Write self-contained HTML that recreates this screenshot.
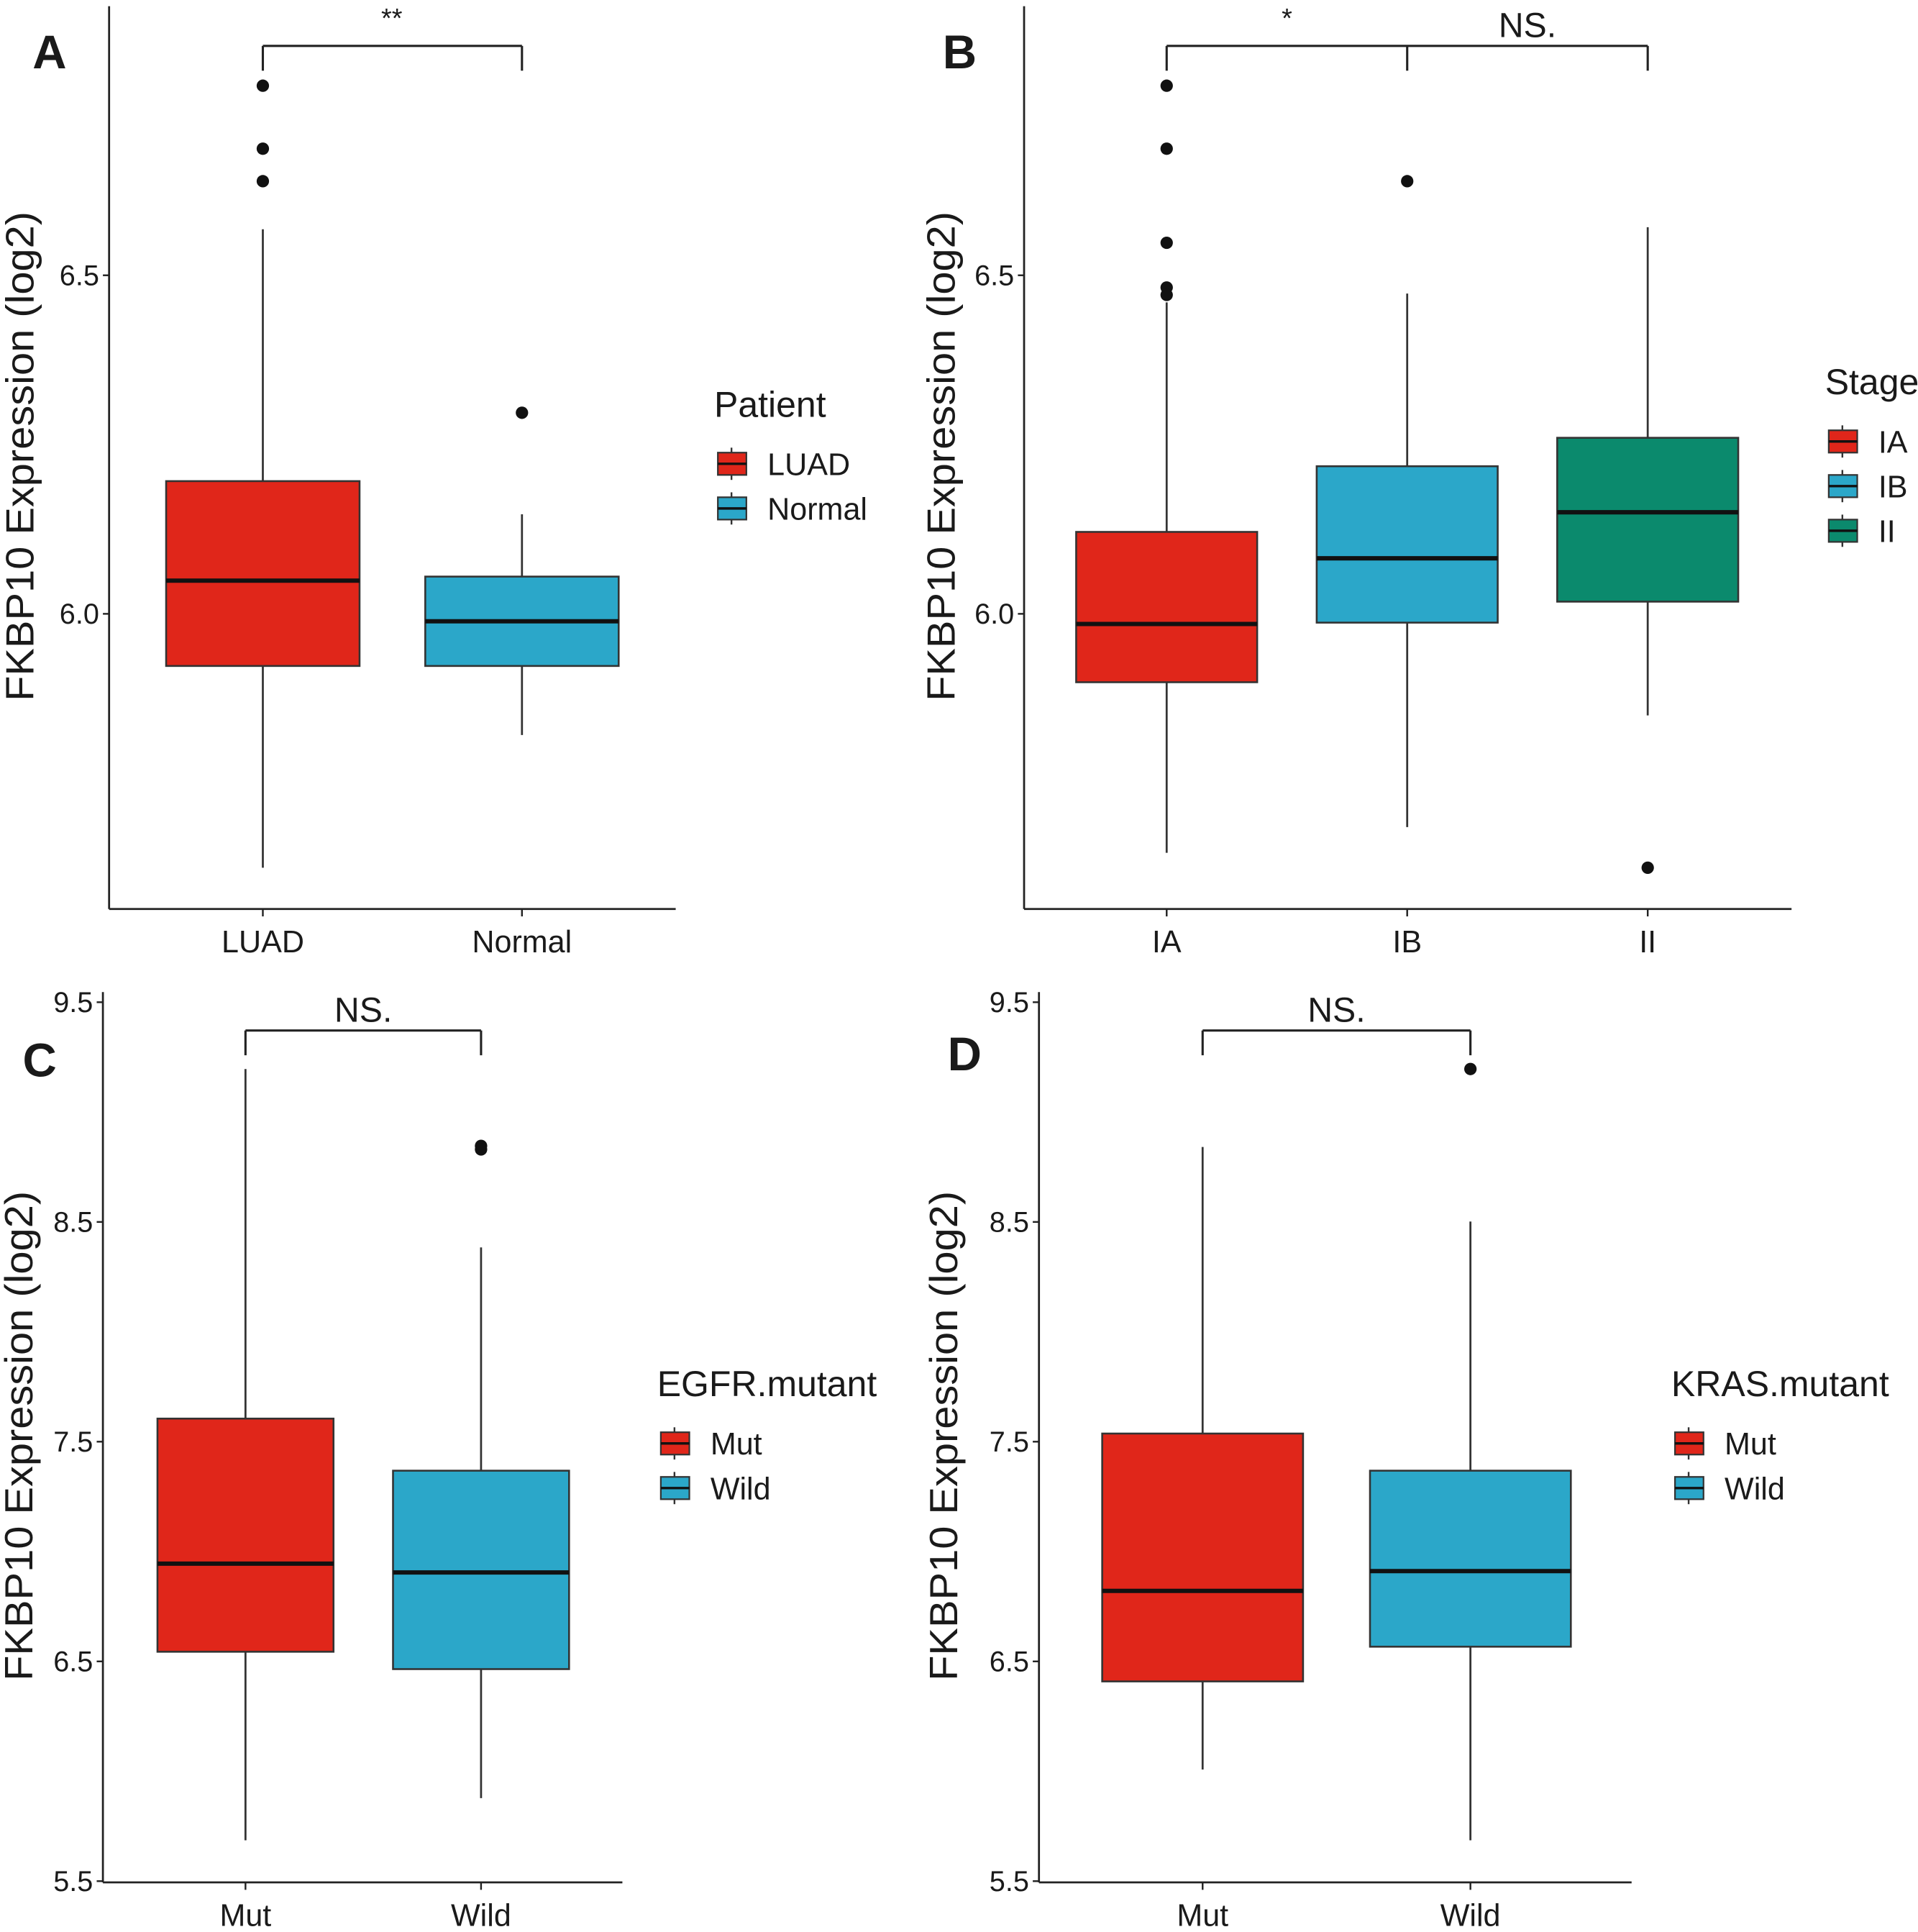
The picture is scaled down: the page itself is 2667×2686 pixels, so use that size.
<!DOCTYPE html>
<html><head><meta charset="utf-8"><style>
html,body{margin:0;padding:0;background:#fff}
svg{display:block}
text{font-family:"Liberation Sans",sans-serif;fill:#1a1a1a}
</style></head><body>
<svg id="fig" width="2667" height="2686" viewBox="0 0 1547 1558" xmlns="http://www.w3.org/2000/svg"></svg>
<script>
// Panel A data
const catsA = ["LUAD","Normal"];
const q1A = [5.923,5.923], medA = [6.049,5.989], q3A = [6.196,6.055];
const wloA = [5.625,5.821], whiA = [6.568,6.147];
const outA = [[6.780,6.687,6.639],[6.297]];
const ticksA = [6.0,6.5];
// Panel B data
const catsB = ["IA","IB","II"];
const q1B = [5.899,5.987,6.018], medB = [5.985,6.082,6.150], q3B = [6.121,6.218,6.260];
const wloB = [5.647,5.685,5.850], whiB = [6.460,6.473,6.571];
const outB = [[6.780,6.687,6.548,6.482,6.471],[6.639],[5.625]];
const ticksB = [6.0,6.5];
// Panel C data
const catsC = ["Mut","Wild"];
const q1C = [6.544,6.465], medC = [6.945,6.905], q3C = [7.605,7.368];
const wloC = [5.686,5.878], whiC = [9.196,8.384];
const outC = [[],[8.846,8.830]];
const ticksC = [5.5,6.5,7.5,8.5,9.5];
// Panel D data
const catsD = ["Mut","Wild"];
const q1D = [6.409,6.567], medD = [6.821,6.911], q3D = [7.537,7.368];
const wloD = [6.008,5.686], whiD = [8.841,8.502];
const outD = [[],[9.196]];
const ticksD = [5.5,6.5,7.5,8.5,9.5];

const NS="http://www.w3.org/2000/svg";
const svg=document.getElementById('fig');
function mk(tag,attrs,parent,txt){const e=document.createElementNS(NS,tag);for(const k in attrs)e.setAttribute(k,attrs[k]);if(txt!==undefined)e.textContent=txt;(parent||svg).appendChild(e);return e;}

function panel(cfg){
  const g=mk('g',{});
  
  
  const y=v=>cfg.y0+(cfg.v0-v)*cfg.ppu;
  const xs=cfg.cats.map((c,i)=>cfg.xc[i]);
  const ya=mk('line',{x1:cfg.ax,y1:cfg.top,x2:cfg.ax,y2:cfg.bot,stroke:'#222','stroke-width':1.6},g);
  
  const xa=mk('line',{x1:cfg.ax,y1:cfg.bot,x2:cfg.xr,y2:cfg.bot,stroke:'#222','stroke-width':1.6},g);
  
  cfg.ticks.forEach(t=>{
    const ty=y(t);
    mk('line',{x1:cfg.ax-5,y1:ty,x2:cfg.ax,y2:ty,stroke:'#222','stroke-width':1.4},g);
    const tl=mk('text',{x:cfg.ax-8,y:ty+8,'text-anchor':'end','font-size':23,fill:'#333'},g,t.toFixed(1));
    
  });
  const yt=mk('text',{transform:`translate(${cfg.ytx},${cfg.yty}) rotate(-90)`,'text-anchor':'middle','font-size':32,'textLength':395,'lengthAdjust':'spacingAndGlyphs','xml:space':'preserve'},g,'FKBP10  Expression (log2)');
  
  const pl=mk('text',{x:cfg.lx,y:cfg.ly,'font-size':38,'font-weight':'bold','text-anchor':'middle'},g,cfg.id.toUpperCase());
  
  cfg.cats.forEach((c,i)=>{
    const x=xs[i],hw=cfg.bw/2;
    mk('line',{x1:x,y1:cfg.bot,x2:x,y2:cfg.bot+6,stroke:'#222','stroke-width':1.4},g);
    const xl=mk('text',{x:x,y:cfg.bot+35,'text-anchor':'middle','font-size':25,fill:'#333'},g,c);
    
    const w=mk('line',{x1:x,y1:y(cfg.whi[i]),x2:x,y2:y(cfg.wlo[i]),stroke:'#333','stroke-width':1.6},g);
    
    const b=mk('rect',{x:x-hw,y:y(cfg.q3[i]),width:cfg.bw,height:y(cfg.q1[i])-y(cfg.q3[i]),fill:cfg.cols[i],stroke:'#333','stroke-width':1.5},g);
    
    const m=mk('line',{x1:x-hw,y1:y(cfg.med[i]),x2:x+hw,y2:y(cfg.med[i]),stroke:'#111','stroke-width':3.5},g);
    
    cfg.out[i].forEach(o=>{
      const p=mk('circle',{cx:x,cy:y(o),r:5,fill:'#111'},g);
      
    });
  });
  const bx=cfg.bracket.map(i=>xs[i]);
  const by=cfg.by;
  const br=mk('g',{},g);
  mk('line',{x1:bx[0],y1:by,x2:bx[bx.length-1],y2:by,stroke:'#222','stroke-width':1.8},br);
  bx.forEach(xx=>mk('line',{x1:xx,y1:by,x2:xx,y2:by+20,stroke:'#222','stroke-width':1.8},br));
  cfg.sig.forEach(s=>{
    const st=mk('text',{x:s[0],y:s[1],'text-anchor':'middle','font-size':s[2]},br,s[3]);
    
  });
  const lg=mk('g',{},g);
  const lt=mk('text',{x:cfg.legx,y:cfg.legy,'font-size':29},lg,cfg.legTitle);
  
  cfg.cats.forEach((c,i)=>{
    const ky=cfg.legy+28+i*36;
    const e=mk('g',{},lg);
    mk('line',{x1:cfg.legx+14,y1:ky-3,x2:cfg.legx+14,y2:ky+23,stroke:'#333','stroke-width':1.4},e);
    mk('rect',{x:cfg.legx+3,y:ky+1,width:23,height:18,fill:cfg.cols[i],stroke:'#333','stroke-width':1.3},e);
    mk('line',{x1:cfg.legx+3,y1:ky+10,x2:cfg.legx+26,y2:ky+10,stroke:'#111','stroke-width':2},e);
    mk('text',{x:cfg.legx+43,y:ky+19,'font-size':25,fill:'#333'},e,c);
  });
}
const RED='#e0261a',BLUE='#2ba7c9',TEAL='#0b8a6d';
panel({id:'a',cats:catsA,q1:q1A,med:medA,q3:q3A,wlo:wloA,whi:whiA,out:outA,ticks:ticksA,
  y0:495,v0:6.0,ppu:546,ax:88,top:5,bot:733,xr:545,xc:[212,421],bw:156,cols:[RED,BLUE],
  ytx:27,yty:368,lx:40,ly:55,bracket:[0,1],by:37,sig:[[316,22,22,'**']],legTitle:'Patient',legx:576,legy:336});
panel({id:'b',cats:catsB,q1:q1B,med:medB,q3:q3B,wlo:wloB,whi:whiB,out:outB,ticks:ticksB,
  y0:495,v0:6.0,ppu:546,ax:826,top:5,bot:733,xr:1445,xc:[941,1135,1329],bw:146,cols:[RED,BLUE,TEAL],
  ytx:770,yty:368,lx:774,ly:55,bracket:[0,1,2],by:37,sig:[[1038,22,22,'*'],[1232,30,28,'NS.']],legTitle:'Stage',legx:1472,legy:318});
panel({id:'c',cats:catsC,q1:q1C,med:medC,q3:q3C,wlo:wloC,whi:whiC,out:outC,ticks:ticksC,
  y0:1517,v0:5.5,ppu:177.2,ax:83,top:800,bot:1518,xr:502,xc:[198,388],bw:142,cols:[RED,BLUE],
  ytx:26,yty:1158,lx:32,ly:868,bracket:[0,1],by:831,sig:[[293,824,28,'NS.']],legTitle:'EGFR.mutant',legx:530,legy:1126});
panel({id:'d',cats:catsD,q1:q1D,med:medD,q3:q3D,wlo:wloD,whi:whiD,out:outD,ticks:ticksD,
  y0:1517,v0:5.5,ppu:177.2,ax:838,top:800,bot:1518,xr:1316,xc:[970,1186],bw:162,cols:[RED,BLUE],
  ytx:772,yty:1158,lx:778,ly:863,bracket:[0,1],by:831,sig:[[1078,824,28,'NS.']],legTitle:'KRAS.mutant',legx:1348,legy:1126});
</script>
</body></html>
